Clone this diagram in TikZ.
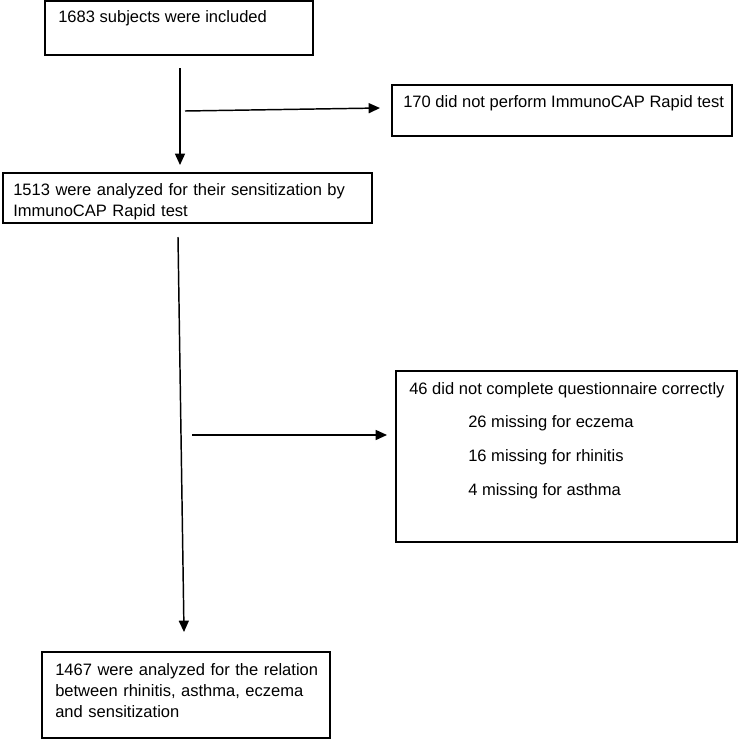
\documentclass[tikz,border=0pt]{standalone}
\usepackage{fontspec}
\setmainfont{Liberation Sans}
\usetikzlibrary{arrows.meta, positioning}

\begin{document}
\begin{tikzpicture}[
    x=0.75pt, y=-0.75pt,
    font=\fontsize{12.4}{16}\selectfont,
    box/.style={draw, line width=0.9pt, inner sep=0pt, outer sep=0pt},
    txt/.style={inner sep=0pt, anchor=base west, align=left},
    arr/.style={line width=1.1pt, -{Triangle[length=8.5pt, width=7.5pt]}}
]
\useasboundingbox (0,0) rectangle (739,739);

% boxes
\node[box, minimum width=201pt,    minimum height=40.5pt]  (incl) at (179,28)    {};
\node[box, minimum width=255pt,    minimum height=38.25pt] (nocap) at (562,110.5) {};
\node[box, minimum width=276.75pt, minimum height=37.5pt]  (sens) at (187.5,198) {};
\node[box, minimum width=255.75pt, minimum height=128.25pt] (quest) at (566.5,456.5) {};
\node[box, minimum width=216pt,    minimum height=64.5pt]  (final) at (186,695)   {};

% texts
\node[txt] (incltxt) at (58,22) {1683 subjects were included};
\node[txt] (nocaptxt) at (403,107) {170 did not perform ImmunoCAP Rapid test};
\node[txt, text width=265pt] (senstxt) at (13,195)
    {1513 were analyzed for their sensitization by\\ImmunoCAP Rapid test};
\node[txt] (questtxt) at (409,394) {46 did not complete questionnaire correctly};
\foreach \n/\y/\t in {ecz/427/{26 missing for eczema},
                      rhi/461/{16 missing for rhinitis},
                      ast/495/{4 missing for asthma}} {
   \node[txt] (miss\n) at (468,\y) {\t};
}
\node[txt, text width=220pt] (finaltxt) at (55,675)
    {1467 were analyzed for the relation\\between rhinitis, asthma, eczema\\and sensitization};

% connectors
\coordinate (down1s) at (180,68);
\coordinate (down1e) at (180,165);
\coordinate (side1s) at (185,111);
\coordinate (side1e) at (380,108);
\coordinate (down2s) at (178,237);
\coordinate (down2e) at (184,632);
\coordinate (side2s) at (192,435);
\coordinate (side2e) at (387,435);
\draw[arr] (down1s) -- (down1e);
\draw[arr] (side1s) -- (side1e);
\draw[arr] (down2s) -- (down2e);
\draw[arr] (side2s) -- (side2e);
\end{tikzpicture}
\end{document}
